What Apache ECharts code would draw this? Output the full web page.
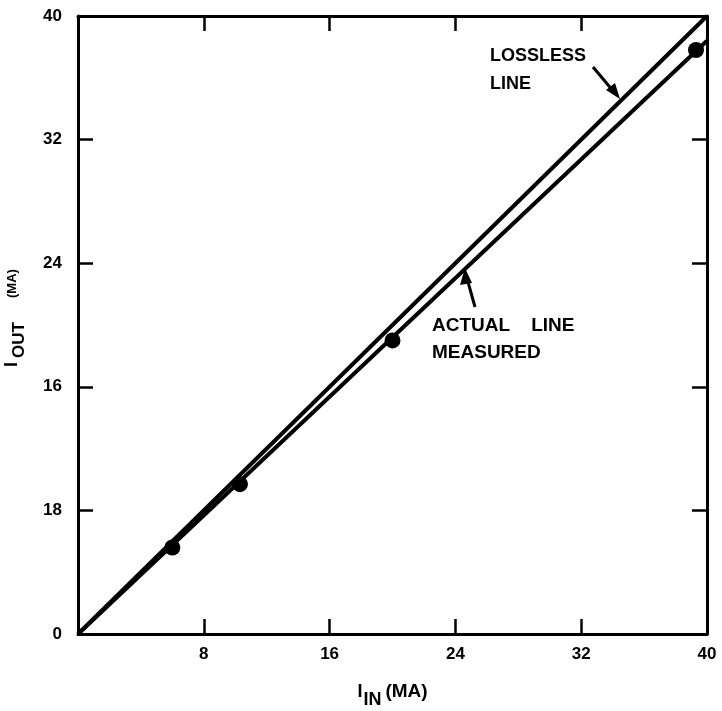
<!DOCTYPE html>
<html><head><meta charset="utf-8">
<script src="https://cdn.jsdelivr.net/npm/echarts@6/dist/echarts.min.js"></script>
<style>html,body{margin:0;padding:0;background:#fff}#c{width:722px;height:711px}</style>
</head><body><div id="c"></div>
<script>
// Data
const xTickValues = [0, 8, 16, 24, 32, 40];
const xTickLabels = ['', '8', '16', '24', '32', '40'];
const yTickValues = [0, 8, 16, 24, 32, 40];
const yTickLabels = ['0', '18', '16', '24', '32', '40'];
const losslessLine = [[0, 0], [40, 40]];
const actualLine = [[0, 0], [40, 38.4]];
const measuredX = [6.0, 10.3, 20.0, 39.3];
const measuredY = [5.6, 9.7, 19.0, 37.8];

const FONT = '"Liberation Sans", Arial, sans-serif';
const chart = echarts.init(document.getElementById('c'), null, {renderer: 'canvas'});

function fmt(values, labels) {
  return function (v) {
    const i = values.indexOf(Math.round(v * 1000) / 1000);
    return i >= 0 ? labels[i] : '';
  };
}

const axisCommon = {
  min: 0, max: 40, interval: 8,
  axisLine: {show: true, onZero: false, lineStyle: {color: '#000', width: 3}},
  axisTick: {show: true, inside: true, length: 15, lineStyle: {color: '#000', width: 2.5}},
  splitLine: {show: false}
};

const xNameRich = {
  i: {fontFamily: FONT, fontWeight: 'bold', fontSize: 18, color: '#000'},
  sub: {fontFamily: FONT, fontWeight: 'bold', fontSize: 18, color: '#000', padding: [16, 0, 0, 1]},
  ma: {fontFamily: FONT, fontWeight: 'bold', fontSize: 19, color: '#000', padding: [0, 0, 0, 4]}
};
const yNameRich = {
  i: {fontFamily: FONT, fontWeight: 'bold', fontSize: 18, color: '#000'},
  sub: {fontFamily: FONT, fontWeight: 'bold', fontSize: 17, color: '#000', padding: [14, 0, 0, 4]},
  ma: {fontFamily: FONT, fontWeight: 'bold', fontSize: 13, color: '#000', padding: [0, 0, 0, 24]}
};

chart.setOption({
  animation: false,
  backgroundColor: '#fff',
  grid: {left: 78, right: 15, top: 16, bottom: 77, containLabel: false, outerBoundsMode: 'none'},
  xAxis: [
    Object.assign({}, axisCommon, {
      type: 'value', position: 'bottom',
      axisLabel: {color: '#000', fontFamily: FONT, fontWeight: 'bold', fontSize: 17, margin: 12,
        formatter: fmt(xTickValues, xTickLabels)},
      name: '{i|I}{sub|IN}{ma|(MA)}', nameLocation: 'middle', nameGap: 41,
      nameTextStyle: {rich: xNameRich}
    }),
    Object.assign({}, axisCommon, {
      type: 'value', position: 'top', axisLabel: {show: false}
    })
  ],
  yAxis: [
    Object.assign({}, axisCommon, {
      type: 'value', position: 'left',
      axisLabel: {color: '#000', fontFamily: FONT, fontWeight: 'bold', fontSize: 17, margin: 16,
        formatter: fmt(yTickValues, yTickLabels)},
      name: '{i|I}{sub|OUT}{ma|(MA)}', nameLocation: 'middle', nameGap: 50, nameRotate: 90,
      nameTextStyle: {rich: yNameRich, padding: [0, 0, 0, 14]}
    }),
    Object.assign({}, axisCommon, {
      type: 'value', position: 'right', axisLabel: {show: false}
    })
  ],
  series: [
    {type: 'line', name: 'Lossless', data: losslessLine, showSymbol: false,
      lineStyle: {color: '#000', width: 4}},
    {type: 'line', name: 'Actual', data: actualLine, showSymbol: false,
      lineStyle: {color: '#000', width: 4}},
    {type: 'scatter', name: 'Measured', data: measuredX.map((x, i) => [x, measuredY[i]]),
      symbol: 'circle', symbolSize: 16, itemStyle: {color: '#000', opacity: 1}, z: 5}
  ],
  graphic: [
    {type: 'text', left: 490, top: 42, style: {text: 'LOSSLESS\nLINE', font: 'bold 18px ' + FONT, fill: '#000', lineHeight: 28}},
    {type: 'line', shape: {x1: 593, y1: 67, x2: 614, y2: 92}, style: {stroke: '#000', lineWidth: 3}},
    {type: 'polygon', shape: {points: [[620, 99], [606, 90], [615, 83]]}, style: {fill: '#000'}},
    {type: 'text', left: 432, top: 312, style: {text: 'ACTUAL    LINE\nMEASURED', font: 'bold 19px ' + FONT, fill: '#000', lineHeight: 27}},
    {type: 'line', shape: {x1: 475, y1: 307, x2: 468, y2: 282}, style: {stroke: '#000', lineWidth: 3}},
    {type: 'polygon', shape: {points: [[465, 268], [460, 285], [472, 283]]}, style: {fill: '#000'}}
  ]
});
</script></body></html>
